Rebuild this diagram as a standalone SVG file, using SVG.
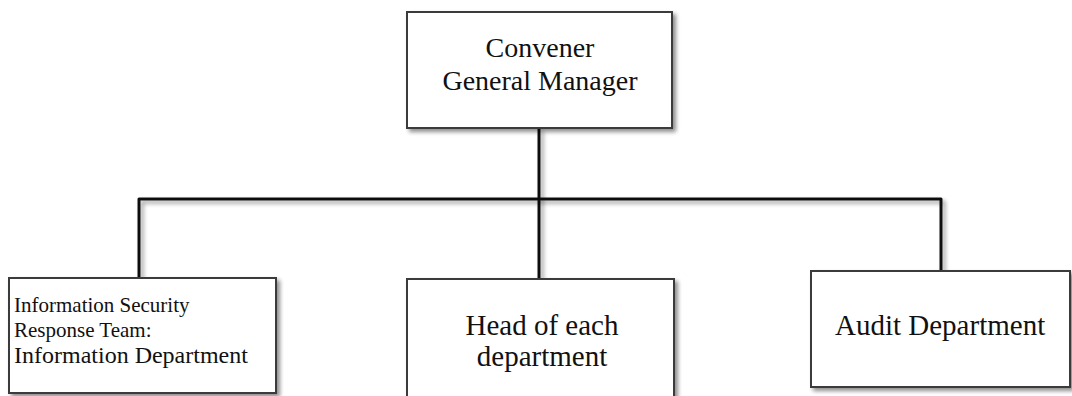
<svg xmlns="http://www.w3.org/2000/svg" width="1072" height="396" viewBox="0 0 1072 396">
<style>
.box{fill:#fff;stroke:#3a3a3a;stroke-width:2;filter:url(#sh)}
.ln{fill:none;stroke:#111;stroke-width:3;stroke-linejoin:round;filter:url(#shl)}
text{font-family:"Liberation Serif","Times New Roman",serif;fill:#111}
</style>
<defs>
<filter id="sh" x="-10%" y="-10%" width="130%" height="130%">
<feGaussianBlur in="SourceAlpha" stdDeviation="2"/>
<feOffset dx="3" dy="3" result="b"/>
<feComponentTransfer><feFuncA type="linear" slope="0.45"/></feComponentTransfer>
<feMerge><feMergeNode/><feMergeNode in="SourceGraphic"/></feMerge>
</filter>
<filter id="shl" filterUnits="userSpaceOnUse" x="0" y="0" width="1072" height="396">
<feGaussianBlur in="SourceAlpha" stdDeviation="2"/>
<feOffset dx="3" dy="3" result="b"/>
<feComponentTransfer><feFuncA type="linear" slope="0.4"/></feComponentTransfer>
<feMerge><feMergeNode/><feMergeNode in="SourceGraphic"/></feMerge>
</filter>
<clipPath id="clipMid"><rect x="400" y="280" width="280" height="92"/></clipPath>
</defs>
<rect width="1072" height="396" fill="#fff"/>
<g id="connectors">
<path class="ln" d="M539 128 V278"/>
<path class="ln" d="M139 277 V199 H941 V270"/>
</g>
<g id="convener">
<rect class="box" x="407" y="12" width="265" height="116"/>
<text font-family="Liberation Serif, serif" font-size="28" text-anchor="middle" x="540" y="57">Convener</text>
<text font-family="Liberation Serif, serif" font-size="28" text-anchor="middle" x="540" y="90">General Manager</text>
</g>
<g id="infosec">
<rect class="box" x="9" y="278" width="267" height="115"/>
<text font-family="Liberation Serif, serif" font-size="21" x="14" y="312">Information Security</text>
<text font-family="Liberation Serif, serif" font-size="21" x="14" y="337">Response Team:</text>
<text font-family="Liberation Serif, serif" font-size="24" x="14" y="363">Information Department</text>
</g>
<g id="heads">
<rect class="box" x="407" y="279" width="267" height="125"/>
<g clip-path="url(#clipMid)">
<text font-family="Liberation Serif, serif" font-size="29" text-anchor="middle" x="542" y="335">Head of each</text>
<text font-family="Liberation Serif, serif" font-size="29" text-anchor="middle" x="542" y="366">department</text>
</g>
</g>
<g id="audit">
<rect class="box" x="811" y="271" width="259" height="116"/>
<text font-family="Liberation Serif, serif" font-size="29" x="835" y="335">Audit Department</text>
</g>
</svg>
